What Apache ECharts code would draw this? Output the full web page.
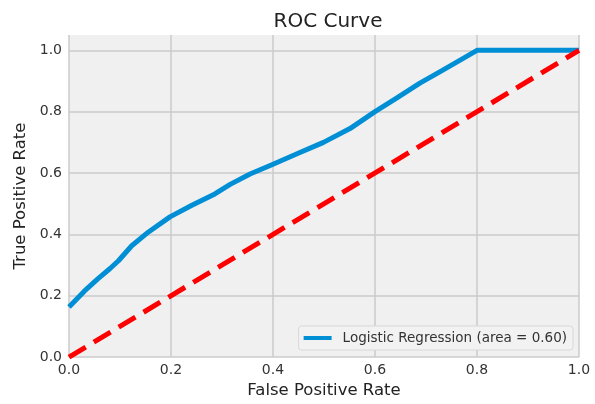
<!DOCTYPE html>
<html>
<head>
<meta charset="utf-8">
<script src="https://cdn.jsdelivr.net/npm/echarts@6/dist/echarts.min.js"></script>
<style>
html,body{margin:0;padding:0;background:#fff;}
#chart{width:595px;height:404px;}
</style>
</head>
<body>
<div id="chart"></div>
<script>
var titleText = 'ROC Curve';
var xAxisName = 'False Positive Rate';
var yAxisName = 'True Positive Rate';
var legendName = 'Logistic Regression (area = 0.60)';
var xTicks = [0.0, 0.2, 0.4, 0.6, 0.8, 1.0];
var yTicks = [0.0, 0.2, 0.4, 0.6, 0.8, 1.0];
var fpr = [0.000, 0.030, 0.057, 0.080, 0.097, 0.123, 0.156, 0.198, 0.240, 0.286, 0.316, 0.355, 0.399, 0.446, 0.499, 0.551, 0.600, 0.643, 0.688, 0.727, 0.767, 0.800, 1.000];
var tpr = [0.163, 0.215, 0.256, 0.288, 0.314, 0.363, 0.408, 0.457, 0.494, 0.532, 0.563, 0.597, 0.628, 0.662, 0.700, 0.745, 0.800, 0.845, 0.893, 0.930, 0.968, 1.000, 1.000];
var chanceX = [0, 1];
var chanceY = [0, 1];

var roc = fpr.map(function (x, i) { return [x, tpr[i]]; });
var chance = chanceX.map(function (x, i) { return [x, chanceY[i]]; });

var chart = echarts.init(document.getElementById('chart'), null, {renderer: 'canvas'});
var font = 'DejaVu Sans';
function fmt(v) {
  for (var i = 0; i < yTicks.length; i++) { if (Math.abs(v - yTicks[i]) < 1e-6) return yTicks[i].toFixed(1); }
  return '';
}
chart.setOption({
  backgroundColor: '#ffffff',
  animation: false,
  title: {
    text: titleText, left: 323, top: 7, textAlign: 'center',
    textStyle: {fontFamily: font, fontSize: 20, fontWeight: 'normal', color: '#222'}
  },
  legend: {
    data: [legendName], right: 22, bottom: 54,
    icon: 'rect', itemWidth: 28, itemHeight: 4, itemGap: 10,
    backgroundColor: '#f2f2f2', borderColor: '#d8d8d8', borderWidth: 1, borderRadius: 3,
    padding: [5, 6, 5, 5],
    textStyle: {fontFamily: font, fontSize: 13.5, color: '#333', padding: [0, 0, 0, 6]}
  },
  grid: {left: 69, right: 16, top: 35, bottom: 46, show: true, backgroundColor: '#f0f0f0', borderWidth: 0},
  xAxis: {
    type: 'value', min: 0, max: 1, interval: 0.2,
    name: xAxisName, nameLocation: 'middle', nameGap: 24,
    nameTextStyle: {fontFamily: font, fontSize: 16.5, color: '#222'},
    axisLine: {show: false}, axisTick: {show: false},
    axisLabel: {fontFamily: font, fontSize: 14, color: '#333', margin: 6, formatter: function (v) { return v.toFixed(1); }},
    splitLine: {show: true, lineStyle: {color: '#cbcbcb', width: 1.5}}
  },
  yAxis: {
    type: 'value', min: 0, max: 1.05, interval: 0.2,
    name: yAxisName, nameLocation: 'middle', nameGap: 38,
    nameTextStyle: {fontFamily: font, fontSize: 16.5, color: '#222'},
    axisLine: {show: false}, axisTick: {show: false},
    axisLabel: {fontFamily: font, fontSize: 14, color: '#333', margin: 7, showMaxLabel: false, formatter: fmt},
    splitLine: {show: true, lineStyle: {color: ['#cbcbcb','#cbcbcb','#cbcbcb','#cbcbcb','#cbcbcb','#cbcbcb','rgba(0,0,0,0)'], width: 1.5}}
  },
  series: [
    {
      name: legendName, type: 'line', data: roc, showSymbol: false, symbol: 'none',
      lineStyle: {color: '#008fd5', width: 5, join: 'round'}, itemStyle: {color: '#008fd5'}, z: 3
    },
    {
      name: 'chance', type: 'line', data: chance, showSymbol: false, symbol: 'none',
      lineStyle: {color: '#ff0000', width: 5, type: [19.5, 9.5], cap: 'butt'}, z: 4
    }
  ]
});
</script>
</body>
</html>
